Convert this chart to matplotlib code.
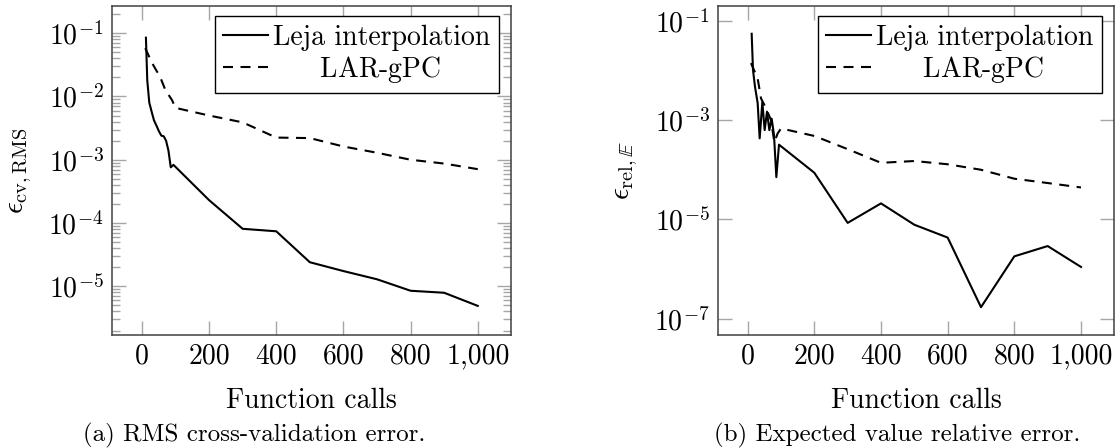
import matplotlib

matplotlib.use("Agg")
import matplotlib.pyplot as plt
from matplotlib.ticker import FixedLocator, FuncFormatter, LogFormatterMathtext, LogLocator, NullLocator

plt.rcParams["font.family"] = ["cmr10", "DejaVu Serif"]
plt.rcParams["mathtext.fontset"] = "cm"
plt.rcParams["axes.formatter.use_mathtext"] = True

# function calls
LEJA_CALLS = [12, 16, 22, 30, 36, 44, 51, 58, 65, 72, 79, 86, 94,
              200, 300, 400, 500, 600, 700, 800, 900, 1000]
LAR_CALLS = [10, 30, 40, 55, 70, 80, 90, 100,
             200, 300, 400, 500, 600, 700, 800, 900, 1000]

# (a) RMS cross-validation error
LEJA_RMS = [8.5e-2, 1.8e-2, 8.0e-3, 5.5e-3, 4.2e-3, 3.4e-3, 2.8e-3, 2.4e-3, 2.35e-3, 2.0e-3, 1.4e-3, 7.6e-4, 8.3e-4,
            2.3e-4, 8.1e-5, 7.4e-5, 2.4e-5, 1.74e-5, 1.29e-5, 8.5e-6, 7.9e-6, 4.9e-6]
LAR_RMS = [5.8e-2, 3.4e-2, 2.75e-2, 2.0e-2, 1.26e-2, 1.05e-2, 8.7e-3, 6.6e-3,
           5.0e-3, 3.9e-3, 2.24e-3, 2.2e-3, 1.62e-3, 1.29e-3, 1.0e-3, 8.7e-4, 7.1e-4]

# (b) expected value relative error
LEJA_MEAN = [5.5e-2, 1.02e-2, 4.7e-3, 2.2e-3, 4.3e-4, 2.3e-3, 6.3e-4, 1.48e-3, 6.3e-4, 1.07e-3, 5.0e-4, 7.1e-5, 3.2e-4,
             8.7e-5, 8.5e-6, 2.1e-5, 7.8e-6, 4.3e-6, 1.7e-7, 1.8e-6, 2.9e-6, 1.1e-6]
LAR_MEAN = [1.41e-2, 6.9e-3, 2.75e-3, 1.74e-3, 1.0e-3, 3.6e-4, 5.4e-4, 6.8e-4,
            4.8e-4, 2.6e-4, 1.38e-4, 1.5e-4, 1.29e-4, 1.0e-4, 6.6e-5, 5.4e-5, 4.4e-5]

X_TICKS = [0, 200, 400, 600, 800, 1000]

FONT = 20
AXIS_COLOR = "#404040"
TICK_COLOR = "#a6a6a6"


def style_axis(ax, ylim, major, minor):
    ax.set_yscale("log")
    ax.set_xlim(-89, 1099)
    ax.set_ylim(*ylim)
    ax.xaxis.set_major_locator(FixedLocator(X_TICKS))
    ax.xaxis.set_major_formatter(FuncFormatter(lambda v, _: f"{v:,.0f}"))
    ax.xaxis.set_minor_locator(NullLocator())
    ax.yaxis.set_major_locator(FixedLocator(major))
    ax.yaxis.set_major_formatter(LogFormatterMathtext())
    if minor:
        ax.yaxis.set_minor_locator(LogLocator(base=10, subs=range(2, 10), numticks=20))
    else:
        ax.yaxis.set_minor_locator(NullLocator())
    ax.tick_params(which="both", direction="in", top=True, right=True,
                   color=TICK_COLOR, labelsize=FONT, width=1.0)
    ax.tick_params(which="major", length=10, pad=6)
    ax.tick_params(which="minor", length=6)
    for spine in ax.spines.values():
        spine.set_color(AXIS_COLOR)
        spine.set_linewidth(1.1)
    ax.set_xlabel("Function calls", fontsize=FONT, labelpad=13)


def draw(ax, leja, lar):
    ax.plot(LEJA_CALLS, leja, color="black", lw=1.5, label="Leja interpolation")
    ax.plot(LAR_CALLS, lar, color="black", lw=1.5, dashes=(4.8, 3.6),
            label=r"$\quad\,$  LAR-gPC")
    leg = ax.legend(loc="upper right", bbox_to_anchor=(0.97, 0.97), fontsize=FONT,
                    frameon=True, fancybox=False, framealpha=1, edgecolor="black",
                    handlelength=1.6, handletextpad=0.2, borderaxespad=0.0,
                    borderpad=0.3, labelspacing=0.12)
    leg.get_frame().set_linewidth(1.0)


def main() -> int:
    fig = plt.figure(figsize=(11.2, 4.48), dpi=100)
    ax1 = fig.add_axes([112 / 1120, 1 - 335 / 448, 399 / 1120, 329 / 448])
    ax2 = fig.add_axes([718 / 1120, 1 - 335 / 448, 396 / 1120, 329 / 448])

    draw(ax1, LEJA_RMS, LAR_RMS)
    style_axis(ax1, (10 ** -5.77, 10 ** -0.57), [1e-5, 1e-4, 1e-3, 1e-2, 1e-1], True)
    ax1.set_ylabel(r"$\epsilon_{\mathrm{cv},\mathrm{RMS}}$", fontsize=FONT + 1, labelpad=10)

    draw(ax2, LEJA_MEAN, LAR_MEAN)
    style_axis(ax2, (10 ** -7.33, 10 ** -0.7), [1e-7, 1e-5, 1e-3, 1e-1], False)
    ax2.set_ylabel(r"$\epsilon_{\mathrm{rel},\mathbb{E}}$", fontsize=FONT + 1, labelpad=10)

    fig.text(254 / 1120, 1 - 435 / 448, "(a) RMS cross-validation error.",
             fontsize=18, ha="center", va="center")
    fig.text(897 / 1120, 1 - 435 / 448, "(b) Expected value relative error.",
             fontsize=18, ha="center", va="center")

    fig.savefig("out.png", dpi=100)
    plt.close(fig)
    return 0


if __name__ == "__main__":
    raise SystemExit(main())
